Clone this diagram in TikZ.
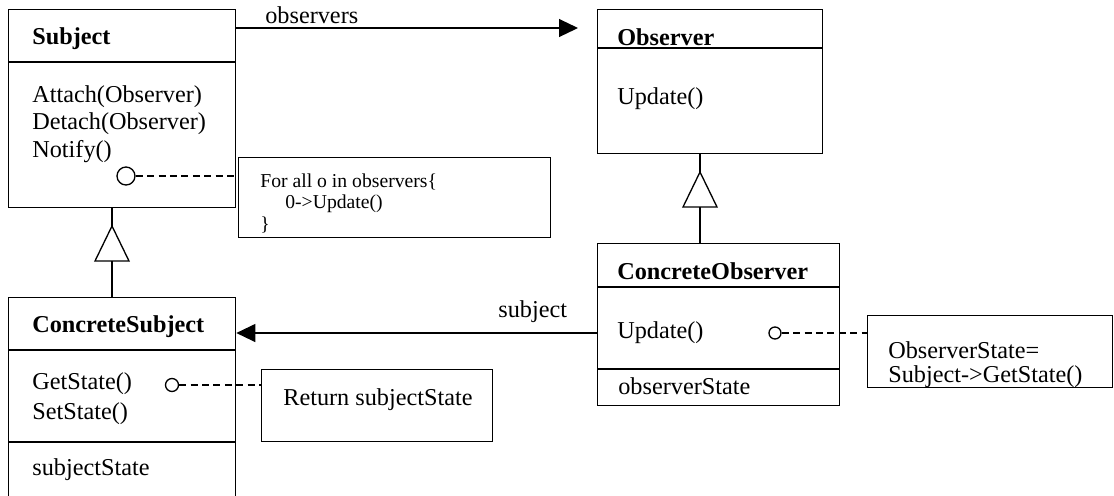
\documentclass[tikz,border=0pt]{standalone}
\usepackage{fontspec}
\setmainfont{Liberation Serif}
\usetikzlibrary{arrows.meta}

\tikzset{
  umlbox/.style={draw, line width=0.75pt, rectangle, anchor=north west, inner sep=0pt},
  clsname/.style={anchor=base west, inner sep=0pt, font=\fontsize{13.8}{16}\selectfont\bfseries},
  member/.style={anchor=base west, inner sep=0pt, font=\fontsize{13.8}{16}\selectfont},
  memo/.style={anchor=base west, inner sep=0pt, font=\fontsize{11.2}{13}\selectfont},
  knob/.style={circle, draw, line width=0.75pt, inner sep=0pt},
  tieline/.style={line width=0.75pt, dash pattern=on 4pt off 2.5pt},
  assoc/.style={line width=0.75pt, -{Triangle[length=10.8pt, width=10.2pt]}},
  plain/.style={line width=0.75pt}
}

\begin{document}
\begin{tikzpicture}[x=0.02cm, y=-0.02cm]
    \useasboundingbox (0,0) rectangle (1114,495);
    \clip (0,0) rectangle (1114,495);
    % Class boxes
    \node (subject) at (8,9) [umlbox, minimum width=227*0.02cm, minimum height=198*0.02cm] {};
    \node (observer) at (597,9) [umlbox, minimum width=225*0.02cm, minimum height=144*0.02cm] {};
    \node (concobserver) at (597,243) [umlbox, minimum width=242*0.02cm, minimum height=162*0.02cm] {};
    \node (concsubject) at (8,297) [umlbox, minimum width=227*0.02cm, minimum height=205*0.02cm] {};
    % Notes
    \node (forallnote) at (238,157) [umlbox, minimum width=312*0.02cm, minimum height=80*0.02cm] {};
    \node (statenote) at (867,315) [umlbox, minimum width=245*0.02cm, minimum height=72*0.02cm] {};
    \node (returnnote) at (261,369) [umlbox, minimum width=231*0.02cm, minimum height=72*0.02cm] {};
    % Compartment lines
    \draw[plain] (8,62) -- (235,62);
    \draw[plain] (597,48) -- (822,48);
    \draw[plain] (597,287) -- (839,287);
    \draw[plain] (597,369) -- (839,369);
    \draw[plain] (8,350) -- (235,350);
    \draw[plain] (8,442) -- (235,442);
    % Texts
    \node (subjname) at (32,44) [clsname] {Subject};
    \node (attach) at (32,102) [member] {Attach(Observer)};
    \node (detach) at (32,129) [member] {Detach(Observer)};
    \node (notify) at (32,157) [member] {Notify()};
    \node (obsname) at (617,45) [clsname] {Observer};
    \node (obsupdate) at (617,104) [member] {Update()};
    \node (cobsname) at (617,279) [clsname] {ConcreteObserver};
    \node (cobsupdate) at (617,338) [member] {Update()};
    \node (cobsstate) at (618,394) [member] {observerState};
    \node (csubjname) at (32,332) [clsname] {ConcreteSubject};
    \node (getstate) at (32,389) [member] {GetState()};
    \node (setstate) at (32,419) [member] {SetState()};
    \node (csubjstate) at (32,475) [member] {subjectState};
    \node (forall) at (260,187) [memo] {For all o in observers\{};
    \node (callupdate) at (285,208) [memo] {0->Update()};
    \node (closebrace) at (260,230) [memo] {\}};
    \node (obsstate) at (888,358) [member] {ObserverState=};
    \node (getcall) at (888,382) [member] {Subject->GetState()};
    \node (returnstate) at (283,405) [member] {Return subjectState};
    % Note anchors
    \node (notifyknob) at (126,176) [knob, minimum size=18*0.02cm] {};
    \node (cobsknob) at (775,333) [knob, minimum size=12*0.02cm] {};
    \node (getknob) at (172,385) [knob, minimum size=13*0.02cm] {};
    \draw[tieline] (notifyknob) -- (notifyknob -| forallnote.west);
    \draw[tieline] (cobsknob) -- (cobsknob -| statenote.west);
    \draw[tieline] (getknob) -- (getknob -| returnnote.west);
    % Generalisation
    \coordinate (subjapex) at (112,226);
    \coordinate (subjbase) at (112,261);
    \draw[plain] (subjapex) -- ++(17,35) -- ++(-34,0) -- cycle;
    \draw[plain] (subject.south -| subjapex) -- (subjapex);
    \draw[plain] (subjbase) -- (subjbase |- concsubject.north);
    \coordinate (obsapex) at (700,172);
    \coordinate (obsbase) at (700,207);
    \draw[plain] (obsapex) -- ++(17,35) -- ++(-34,0) -- cycle;
    \draw[plain] (observer.south -| obsapex) -- (obsapex);
    \draw[plain] (obsbase) -- (obsbase |- concobserver.north);
    % Associations
    \coordinate (obstip) at (578,28);
    \draw[assoc] (subject.east |- obstip) -- (obstip);
    \node (obslabel) at (265,23) [member] {observers};
    \coordinate (subjtail) at (597,333);
    \draw[assoc] (subjtail) -- (subjtail -| concsubject.east);
    \node (subjlabel) at (498,317) [member] {subject};
\end{tikzpicture}
\end{document}
